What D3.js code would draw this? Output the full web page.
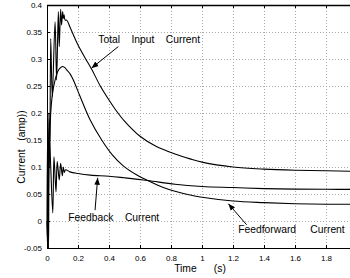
<!DOCTYPE html>
<html><head><meta charset="utf-8">
<script src="https://cdn.jsdelivr.net/npm/d3@7"></script>
<style>
html,body{margin:0;padding:0;background:#fff;overflow:hidden}
svg{display:block;font-family:"Liberation Sans",Arial,Helvetica,sans-serif}
text{white-space:pre}
</style></head>
<body><svg id="chart" width="350" height="278"></svg>
<script>
// ---- data ----
const xTicks = [0,0.2,0.4,0.6,0.8,1,1.2,1.4,1.6,1.8];
const xTickLabels = ["0","0.2","0.4","0.6","0.8","1","1.2","1.4","1.6","1.8"];
const yTicks = [-0.05,0,0.05,0.1,0.15,0.2,0.25,0.3,0.35,0.4];
const yTickLabels = ["-0.05","0","0.05","0.1","0.15","0.2","0.25","0.3","0.35","0.4"];

const totalT = [0,0.004,0.012,0.018,0.024,0.034,0.052,0.062,0.073,0.079,0.088,0.094,0.101,0.105,0.11,0.117,0.127,0.15,0.2,0.25,0.29,0.342,0.4,0.44,0.5,0.6,0.7,0.826,0.923,1.0,1.2,1.4,1.6,1.8,2.0];
const totalV = [0,-0.05,0.2,0.1,0.338,0.23,0.369,0.261,0.388,0.323,0.392,0.363,0.388,0.375,0.382,0.372,0.372,0.358,0.326,0.3,0.28,0.251,0.224,0.207,0.185,0.157,0.139,0.124,0.115,0.109,0.1,0.096,0.094,0.093,0.092];

const ffT = [0,0.006,0.012,0.024,0.035,0.052,0.068,0.084,0.099,0.115,0.127,0.15,0.17,0.213,0.277,0.353,0.42,0.492,0.58,0.65,0.75,0.826,0.923,1.0,1.2,1.4,1.6,1.8,2.0];
const ffV = [0,-0.05,0.1,0.2,0.235,0.261,0.276,0.283,0.286,0.284,0.28,0.272,0.261,0.231,0.188,0.15,0.123,0.102,0.085,0.075,0.062,0.055,0.048,0.044,0.037,0.034,0.032,0.031,0.031];

const fbT = [0,0.004,0.01,0.016,0.037,0.045,0.058,0.066,0.079,0.088,0.099,0.105,0.112,0.12,0.148,0.2,0.28,0.4,0.5,0.65,0.826,1.0,1.2,1.4,1.6,1.8,2.0];
const fbV = [0,0.17,-0.05,0.15,0.015,0.119,0.054,0.11,0.076,0.107,0.084,0.1,0.09,0.095,0.091,0.088,0.085,0.083,0.08,0.075,0.068,0.064,0.062,0.06,0.059,0.0587,0.0585];

const annotations = [
  {text:"Total    Input    Current", t:0.331, v:0.33, from:[0.46,0.323], to:[0.287,0.283]},
  {text:"Feedback    Current", t:0.137, v:0.0, from:[0.31,0.02], to:[0.327,0.08]},
  {text:"Feedforward     Current", t:1.234, v:-0.023, from:[1.288,-0.007], to:[1.17,0.032]}
];

// ---- drawing ----
const svg = d3.select("#chart");
const x = d3.scaleLinear().domain([0,2]).range([47,357]);
const y = d3.scaleLinear().domain([-0.05,0.4]).range([248,5]);
const x0 = 47, x1 = 357, y0 = 248, y1 = 5;

svg.append("defs").append("marker")
  .attr("id","ah").attr("viewBox","0 0 10 10").attr("refX",10).attr("refY",5)
  .attr("markerWidth",7).attr("markerHeight",7).attr("markerUnits","userSpaceOnUse")
  .attr("orient","auto")
  .append("path").attr("d","M0,1 L10,5 L0,9 Z").attr("fill","#000");

// grid
const grid = svg.append("g").attr("stroke","#aaa").attr("stroke-width",1).attr("stroke-dasharray","1,2");
grid.selectAll(".gx").data(xTicks.filter(d=>d>0)).enter().append("line")
  .attr("x1",d=>Math.round(x(d))+0.5).attr("x2",d=>Math.round(x(d))+0.5).attr("y1",y1).attr("y2",y0);
grid.selectAll(".gy").data(yTicks.filter(d=>d>-0.05 && d<0.4)).enter().append("line")
  .attr("y1",d=>Math.round(y(d))+0.5).attr("y2",d=>Math.round(y(d))+0.5).attr("x1",x0).attr("x2",x1);

// curves
const line = d3.line().x(d=>x(d[0])).y(d=>y(d[1])).curve(d3.curveCatmullRom.alpha(0.5));
const series = [
  totalT.map((t,i)=>[t,totalV[i]]),
  ffT.map((t,i)=>[t,ffV[i]]),
  fbT.map((t,i)=>[t,fbV[i]])
];
svg.append("g").selectAll("path").data(series).enter().append("path")
  .attr("d",line).attr("fill","none").attr("stroke","#000").attr("stroke-width",1.1);

// axes frame
svg.append("line").attr("x1",x0+0.5).attr("x2",x0+0.5).attr("y1",y1).attr("y2",y0).attr("stroke","#000");
svg.append("line").attr("x1",x0).attr("x2",x1).attr("y1",y0+0.5).attr("y2",y0+0.5).attr("stroke","#000");
svg.append("line").attr("x1",x0).attr("x2",x1).attr("y1",y1+0.5).attr("y2",y1+0.5).attr("stroke","#000").attr("stroke-width",1.5);

// axes via d3 axis
const xAxis = d3.axisBottom(x).tickValues(xTicks).tickFormat((d,i)=>xTickLabels[i]).tickSizeInner(-3).tickSizeOuter(0).tickPadding(7);
const gx = svg.append("g").attr("transform",`translate(0,${y0})`).call(xAxis);
gx.select(".domain").remove();
const xTop = d3.axisTop(x).tickValues(xTicks).tickFormat("").tickSizeInner(-3).tickSizeOuter(0);
const gxt = svg.append("g").attr("transform",`translate(0,${y1})`).call(xTop);
gxt.select(".domain").remove();
const yAxis = d3.axisLeft(y).tickValues(yTicks).tickFormat((d,i)=>yTickLabels[i]).tickSizeInner(-3).tickSizeOuter(0).tickPadding(5);
const gy = svg.append("g").attr("transform",`translate(${x0},0)`).call(yAxis);
gy.select(".domain").remove();
svg.selectAll(".tick text").attr("font-size",8).attr("font-family","Liberation Sans, Arial, sans-serif").attr("fill","#000");

// axis labels
svg.append("text").attr("x",200).attr("y",272).attr("text-anchor","middle").attr("font-size",10.3)
  .text("Time      (s)");
svg.append("text").attr("transform","translate(25,147) rotate(-90)").attr("text-anchor","middle").attr("font-size",10.3)
  .text("Current   (amp))");

// annotations
const ann = svg.append("g");
annotations.forEach(a=>{
  ann.append("text").attr("x",x(a.t)).attr("y",y(a.v)).attr("font-size",10.3).text(a.text);
  ann.append("line").attr("x1",x(a.from[0])).attr("y1",y(a.from[1])).attr("x2",x(a.to[0])).attr("y2",y(a.to[1]))
    .attr("stroke","#000").attr("stroke-width",1).attr("marker-end","url(#ah)");
});
</script></body></html>
